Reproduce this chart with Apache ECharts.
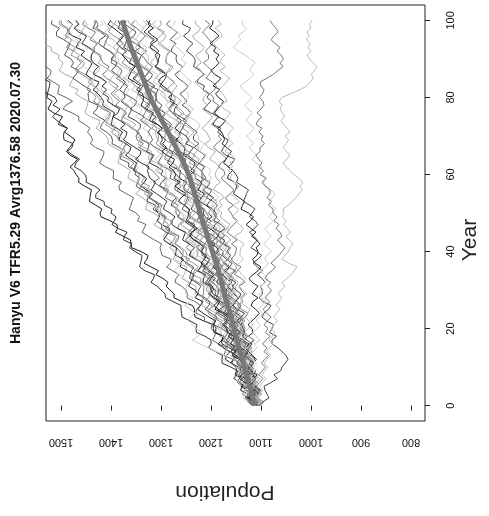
<!DOCTYPE html>
<html><head><meta charset="utf-8">
<script src="https://cdn.jsdelivr.net/npm/echarts@6/dist/echarts.min.js"></script>
<style>html,body{margin:0;padding:0;background:#fff}#c{width:489px;height:516px}</style>
</head><body><div id="c"></div>
<script>
const YEARS=[0,1,2,3,4,5,6,7,8,9,10,11,12,13,14,15,16,17,18,19,20,21,22,23,24,25,26,27,28,29,30,31,32,33,34,35,36,37,38,39,40,41,42,43,44,45,46,47,48,49,50,51,52,53,54,55,56,57,58,59,60,61,62,63,64,65,66,67,68,69,70,71,72,73,74,75,76,77,78,79,80,81,82,83,84,85,86,87,88,89,90,91,92,93,94,95,96,97,98,99,100];
const POP_TICKS=[800,900,1000,1100,1200,1300,1400,1500];
const YEAR_TICKS=[0,20,40,60,80,100];
const TITLE="Hanyu V6 TFR5.29 Avrg1376.58 2020.07.30";

const L1=[1108,1109,1104,1117,1129,1140,1134,1129,1145,1139,1145,1159,1155,1153,1150,1164,1178,1179,1174,1191,1190,1194,1215,1232,1233,1233,1237,1258,1274,1274,1282,1290,1286,1296,1310,1305,1320,1334,1328,1326,1340,1359,1360,1361,1376,1391,1387,1388,1402,1420,1422,1418,1430,1443,1442,1441,1439,1453,1465,1464,1470,1474,1482,1473,1467,1482,1489,1483,1477,1472,1482,1493,1487,1505,1502,1497,1515,1526,1522,1518,1528,1527,1543,1545,1563,1563,1556,1568,1586,1586,1590,1601,1616,1616,1612,1627,1641,1635,1636,1656,1660];
const L2=[1105,1113,1108,1119,1132,1127,1141,1155,1149,1147,1160,1178,1178,1177,1191,1205,1200,1200,1212,1229,1230,1228,1242,1258,1259,1260,1260,1276,1291,1292,1300,1308,1320,1315,1313,1332,1343,1341,1339,1338,1352,1363,1358,1375,1373,1368,1386,1398,1393,1390,1400,1398,1413,1414,1431,1430,1422,1433,1450,1449,1452,1460,1473,1470,1463,1476,1487,1478,1476,1494,1495,1494,1487,1498,1508,1517,1509,1502,1516,1508,1512,1527,1525,1523,1522,1537,1553,1555,1551,1569,1570,1572,1591,1605,1604,1602,1604,1623,1636,1634,1640];
const L3=[1112,1119,1130,1122,1119,1137,1147,1144,1139,1137,1150,1161,1156,1174,1172,1167,1185,1197,1193,1190,1200,1198,1213,1213,1230,1229,1221,1232,1248,1247,1250,1259,1272,1270,1264,1277,1289,1281,1280,1298,1300,1302,1299,1313,1326,1338,1334,1330,1347,1343,1350,1364,1360,1358,1355,1369,1383,1384,1379,1396,1395,1395,1411,1423,1419,1415,1414,1431,1441,1437,1440,1447,1442,1452,1465,1464,1478,1496,1490,1477,1490,1507,1505,1503,1515,1528,1521,1520,1530,1546,1545,1542,1554,1569,1568,1568,1566,1581,1594,1594,1600];
const L4=[1110,1117,1128,1124,1116,1127,1137,1127,1124,1140,1140,1142,1138,1152,1164,1176,1171,1167,1183,1179,1185,1199,1195,1193,1190,1204,1218,1219,1214,1231,1230,1230,1246,1258,1254,1250,1249,1266,1276,1272,1275,1281,1275,1284,1296,1289,1302,1314,1307,1303,1315,1331,1329,1326,1338,1350,1343,1341,1351,1366,1365,1361,1372,1386,1384,1383,1380,1394,1406,1405,1410,1418,1430,1424,1422,1441,1452,1450,1447,1446,1460,1471,1465,1483,1480,1475,1492,1504,1499,1496,1505,1504,1519,1520,1537,1537,1529,1541,1557,1557,1560];
const L5=[1115,1113,1127,1137,1132,1126,1123,1138,1147,1140,1142,1148,1141,1150,1161,1154,1167,1178,1171,1166,1178,1194,1191,1188,1200,1212,1204,1202,1212,1226,1225,1220,1230,1243,1241,1239,1235,1248,1260,1257,1262,1269,1281,1274,1271,1290,1300,1297,1293,1292,1305,1316,1310,1328,1326,1321,1338,1350,1346,1342,1352,1350,1365,1364,1381,1380,1372,1383,1398,1397,1400,1409,1421,1419,1412,1425,1436,1428,1426,1444,1445,1446,1441,1454,1465,1476,1470,1465,1480,1475,1480,1493,1489,1485,1482,1495,1509,1509,1503,1519,1518];
const L6=[1100,1095,1106,1118,1116,1114,1111,1124,1135,1133,1138,1144,1155,1147,1144,1161,1170,1167,1162,1160,1172,1182,1176,1192,1189,1183,1200,1211,1205,1201,1210,1207,1221,1220,1236,1234,1225,1235,1250,1248,1250,1259,1272,1270,1264,1277,1289,1281,1280,1298,1300,1301,1297,1310,1322,1333,1328,1323,1339,1334,1340,1354,1350,1348,1345,1359,1373,1374,1369,1386,1385,1384,1400,1411,1407,1402,1401,1417,1427,1422,1425,1431,1425,1434,1446,1439,1452,1467,1457,1453,1465,1480,1476,1472,1483,1494,1485,1482,1491,1504,1502];
const L7=[1118,1114,1127,1126,1141,1138,1128,1137,1152,1149,1150,1159,1171,1169,1162,1175,1186,1178,1176,1194,1195,1196,1191,1204,1216,1227,1221,1216,1232,1226,1232,1245,1241,1237,1234,1247,1261,1261,1255,1271,1270,1269,1284,1295,1290,1285,1283,1299,1308,1303,1305,1311,1304,1313,1324,1317,1329,1341,1333,1329,1340,1355,1352,1349,1360,1371,1363,1360,1370,1384,1382,1377,1388,1400,1398,1396,1393,1406,1417,1415,1420,1426,1436,1428,1424,1441,1450,1446,1441,1438,1450,1460,1453,1470,1466,1460,1477,1487,1482,1477,1486];
const L8=[1105,1117,1111,1107,1102,1114,1126,1125,1118,1133,1130,1128,1143,1153,1148,1142,1140,1155,1164,1158,1160,1165,1158,1166,1177,1169,1181,1192,1184,1179,1190,1205,1201,1197,1207,1218,1209,1206,1214,1228,1225,1219,1230,1242,1239,1237,1233,1245,1256,1254,1258,1265,1276,1270,1267,1285,1295,1292,1289,1287,1300,1311,1306,1323,1321,1316,1334,1346,1341,1338,1348,1346,1361,1362,1379,1378,1370,1381,1398,1397,1400,1408,1420,1417,1410,1422,1433,1424,1422,1439,1440,1440,1435,1448,1459,1469,1463,1457,1473,1467,1472];
const L9=[1112,1103,1113,1123,1118,1114,1128,1137,1134,1127,1135,1148,1144,1139,1148,1158,1168,1163,1158,1168,1170,1170,1166,1180,1190,1179,1176,1186,1197,1206,1200,1198,1212,1203,1214,1228,1219,1216,1229,1241,1240,1250,1243,1251,1242,1251,1267,1264,1256,1265,1270,1270,1266,1277,1292,1288,1285,1302,1316,1303,1310,1317,1329,1324,1320,1317,1330,1343,1335,1348,1350,1345,1357,1369,1380,1375,1369,1377,1391,1383,1392,1400,1391,1386,1397,1409,1417,1408,1404,1416,1420,1421,1434,1433,1428,1442,1436,1431,1446,1457,1452];
const L10=[1108,1105,1114,1125,1120,1109,1120,1129,1118,1129,1125,1130,1138,1130,1126,1142,1150,1141,1148,1141,1150,1157,1147,1157,1173,1170,1165,1180,1190,1186,1185,1187,1199,1191,1203,1216,1212,1208,1202,1214,1220,1229,1221,1235,1243,1237,1232,1243,1255,1267,1262,1267,1280,1277,1269,1278,1291,1303,1299,1291,1300,1296,1308,1323,1319,1314,1329,1325,1324,1338,1340,1349,1342,1341,1351,1366,1362,1358,1370,1380,1372,1374,1383,1377,1371,1381,1390,1399,1392,1388,1400,1394,1403,1415,1425,1422,1411,1421,1436,1432,1432];
const L11=[1120,1126,1136,1130,1124,1120,1131,1143,1133,1145,1145,1139,1151,1161,1171,1166,1159,1166,1178,1170,1178,1186,1176,1172,1183,1195,1202,1193,1190,1201,1205,1206,1218,1216,1211,1225,1218,1213,1227,1237,1232,1224,1233,1244,1239,1235,1250,1259,1257,1249,1258,1270,1266,1261,1270,1279,1289,1283,1279,1288,1290,1291,1287,1302,1312,1302,1299,1310,1321,1331,1325,1323,1336,1327,1337,1351,1341,1338,1350,1362,1360,1370,1363,1372,1363,1372,1388,1385,1378,1387,1392,1391,1386,1396,1410,1409,1404,1420,1434,1416,1422];
const L12=[1110,1104,1114,1128,1122,1115,1128,1122,1120,1132,1132,1141,1134,1131,1141,1156,1152,1148,1158,1168,1160,1162,1170,1165,1158,1168,1176,1185,1178,1174,1185,1179,1187,1198,1207,1204,1192,1202,1215,1211,1210,1208,1219,1231,1227,1217,1230,1240,1230,1243,1240,1245,1254,1246,1243,1259,1268,1259,1267,1260,1270,1277,1267,1277,1293,1290,1285,1300,1310,1306,1305,1307,1319,1311,1323,1336,1332,1328,1322,1334,1340,1348,1339,1352,1359,1352,1346,1356,1367,1378,1372,1376,1388,1385,1376,1382,1394,1405,1401,1394,1402];
const L13=[1102,1108,1117,1109,1104,1121,1130,1125,1120,1116,1128,1136,1128,1144,1139,1131,1146,1155,1149,1143,1150,1145,1157,1155,1169,1165,1154,1162,1176,1172,1172,1179,1189,1185,1176,1187,1197,1186,1183,1198,1198,1198,1193,1205,1216,1226,1220,1214,1229,1223,1228,1240,1236,1232,1229,1241,1254,1254,1248,1264,1262,1261,1277,1287,1283,1278,1277,1293,1302,1297,1300,1305,1298,1307,1318,1310,1322,1333,1326,1321,1332,1346,1342,1336,1346,1356,1347,1343,1350,1363,1360,1354,1363,1375,1371,1368,1364,1375,1386,1382,1386];
const L14=[1115,1114,1108,1118,1131,1126,1121,1137,1145,1135,1140,1145,1155,1149,1143,1138,1149,1160,1151,1162,1162,1155,1165,1174,1183,1176,1168,1172,1183,1175,1182,1190,1181,1176,1187,1199,1207,1198,1194,1206,1210,1210,1222,1220,1214,1227,1220,1214,1228,1238,1232,1223,1233,1243,1238,1234,1248,1257,1254,1247,1255,1267,1263,1257,1265,1275,1288,1282,1280,1283,1285,1285,1281,1295,1305,1294,1291,1301,1312,1321,1315,1312,1324,1314,1324,1337,1326,1322,1334,1344,1342,1351,1344,1351,1342,1350,1365,1362,1353,1362,1366];
const L15=[1108,1110,1121,1116,1106,1112,1122,1132,1126,1116,1122,1116,1126,1138,1132,1125,1138,1132,1128,1140,1140,1149,1141,1139,1148,1163,1158,1154,1164,1174,1165,1167,1175,1170,1163,1173,1181,1190,1183,1179,1190,1184,1192,1203,1212,1209,1197,1207,1220,1216,1215,1213,1224,1236,1232,1222,1235,1245,1235,1248,1245,1251,1260,1253,1250,1267,1276,1268,1276,1270,1280,1286,1276,1285,1301,1297,1292,1306,1316,1311,1310,1310,1321,1312,1323,1334,1329,1323,1317,1327,1332,1339,1329,1340,1346,1338,1331,1340,1349,1359,1352];
const L16=[1112,1123,1118,1110,1118,1126,1135,1128,1121,1129,1130,1129,1124,1138,1147,1135,1131,1140,1151,1159,1152,1148,1160,1148,1157,1169,1158,1153,1163,1173,1170,1179,1171,1177,1167,1175,1190,1186,1176,1184,1188,1186,1180,1190,1203,1197,1192,1207,1216,1205,1210,1216,1227,1220,1215,1211,1223,1235,1225,1237,1238,1232,1242,1252,1262,1256,1248,1255,1267,1257,1265,1273,1263,1259,1270,1282,1289,1280,1277,1288,1292,1292,1305,1302,1296,1310,1303,1297,1310,1321,1315,1306,1315,1325,1320,1316,1330,1339,1336,1328,1336];
const L17=[1104,1107,1115,1105,1101,1115,1122,1112,1118,1110,1118,1123,1112,1120,1135,1130,1124,1137,1146,1140,1138,1138,1149,1140,1151,1162,1157,1151,1145,1155,1160,1168,1158,1170,1176,1169,1162,1172,1181,1192,1185,1188,1199,1195,1185,1192,1203,1217,1208,1198,1205,1200,1210,1224,1219,1213,1226,1221,1219,1231,1232,1241,1234,1232,1242,1255,1253,1252,1260,1270,1262,1263,1272,1266,1259,1269,1277,1285,1278,1274,1285,1278,1286,1296,1305,1301,1289,1298,1311,1306,1305,1302,1311,1322,1317,1306,1317,1326,1315,1326,1322];
const L18=[1116,1127,1121,1116,1111,1122,1133,1131,1124,1138,1135,1132,1145,1154,1147,1140,1136,1150,1157,1150,1150,1154,1146,1152,1162,1153,1164,1174,1164,1158,1168,1181,1176,1170,1179,1188,1178,1175,1180,1192,1188,1181,1190,1201,1197,1193,1188,1199,1209,1205,1208,1213,1222,1213,1208,1224,1232,1227,1221,1217,1228,1236,1228,1244,1239,1231,1246,1255,1249,1243,1250,1245,1257,1255,1269,1265,1254,1262,1276,1272,1272,1278,1288,1282,1273,1283,1292,1281,1276,1291,1290,1288,1281,1292,1301,1309,1301,1293,1307,1299,1302];
const L19=[1110,1101,1109,1119,1113,1108,1121,1130,1126,1118,1125,1136,1130,1123,1131,1139,1147,1140,1134,1141,1142,1141,1135,1148,1156,1144,1140,1148,1158,1165,1158,1154,1165,1154,1163,1175,1163,1158,1169,1178,1175,1184,1176,1183,1173,1179,1196,1192,1183,1191,1195,1193,1187,1196,1209,1203,1198,1213,1221,1210,1215,1220,1230,1223,1217,1212,1223,1234,1224,1235,1235,1228,1238,1247,1256,1249,1241,1247,1258,1248,1255,1262,1251,1246,1255,1266,1272,1262,1257,1268,1270,1269,1280,1277,1270,1282,1274,1267,1280,1289,1282];
const L20=[1106,1103,1112,1123,1117,1106,1118,1126,1115,1126,1122,1126,1134,1124,1120,1135,1143,1133,1139,1131,1140,1145,1133,1141,1155,1150,1143,1156,1164,1158,1155,1155,1165,1155,1165,1176,1170,1164,1156,1166,1170,1177,1166,1177,1182,1174,1166,1175,1183,1193,1185,1188,1199,1195,1185,1192,1203,1217,1208,1198,1205,1199,1209,1222,1216,1209,1222,1218,1213,1225,1225,1233,1225,1222,1231,1245,1241,1235,1245,1254,1245,1246,1253,1247,1239,1248,1255,1263,1255,1250,1260,1252,1259,1269,1277,1272,1259,1267,1280,1274,1272];
const L21=[1104,1096,1084,1088,1092,1094,1080,1067,1074,1061,1058,1052,1046,1050,1058,1066,1078,1078,1069,1083,1078,1075,1089,1098,1094,1085,1080,1096,1104,1097,1098,1101,1092,1098,1107,1097,1107,1116,1106,1099,1108,1120,1114,1107,1115,1123,1113,1106,1112,1123,1118,1112,1122,1135,1132,1129,1125,1137,1149,1146,1150,1156,1166,1157,1153,1170,1179,1175,1169,1166,1178,1187,1180,1196,1192,1185,1201,1214,1208,1200,1208,1203,1216,1213,1228,1224,1213,1222,1235,1232,1232,1238,1249,1244,1236,1246,1255,1245,1241,1257,1256];
const L22=[1114,1113,1125,1121,1115,1127,1119,1113,1125,1135,1128,1118,1126,1136,1130,1124,1137,1145,1142,1133,1140,1150,1144,1137,1144,1151,1159,1151,1145,1152,1152,1150,1145,1157,1165,1153,1148,1156,1165,1173,1165,1160,1172,1160,1168,1180,1168,1162,1172,1182,1178,1186,1178,1184,1174,1181,1195,1191,1181,1189,1192,1189,1183,1191,1203,1197,1191,1205,1212,1201,1205,1209,1218,1210,1203,1197,1207,1217,1206,1216,1215,1207,1216,1224,1232,1224,1215,1220,1230,1219,1225,1231,1219,1213,1222,1232,1237,1226,1221,1230,1232];
const L23=[1108,1100,1107,1117,1125,1120,1107,1115,1128,1122,1120,1116,1125,1136,1130,1118,1129,1137,1126,1137,1132,1135,1142,1131,1126,1140,1147,1136,1141,1132,1140,1144,1132,1139,1153,1147,1140,1152,1160,1153,1150,1149,1159,1148,1158,1168,1162,1155,1147,1156,1160,1166,1155,1166,1171,1162,1154,1162,1171,1180,1172,1174,1185,1180,1169,1176,1186,1195,1189,1179,1185,1178,1187,1199,1192,1184,1196,1189,1185,1196,1195,1202,1193,1189,1197,1210,1204,1198,1207,1215,1205,1205,1211,1204,1196,1204,1210,1217,1209,1202,1212];
const L24=[1112,1117,1126,1119,1109,1118,1126,1114,1108,1122,1120,1117,1109,1117,1125,1132,1123,1114,1125,1116,1118,1126,1118,1110,1103,1111,1120,1116,1106,1118,1112,1106,1118,1124,1116,1106,1100,1112,1117,1108,1106,1110,1102,1109,1119,1110,1120,1130,1121,1115,1125,1140,1137,1133,1144,1155,1151,1148,1153,1167,1165,1157,1165,1175,1170,1165,1159,1169,1178,1173,1175,1179,1187,1177,1171,1186,1193,1187,1180,1175,1185,1191,1182,1196,1187,1180,1193,1200,1191,1184,1190,1184,1195,1190,1202,1193,1184,1192,1203,1197,1196];
const L25=[1110,1116,1105,1098,1106,1114,1123,1112,1104,1116,1118,1117,1128,1123,1116,1128,1120,1113,1124,1133,1126,1116,1124,1133,1127,1121,1133,1141,1137,1128,1135,1145,1138,1130,1138,1144,1151,1143,1135,1142,1142,1140,1134,1145,1153,1140,1135,1143,1151,1158,1150,1145,1156,1143,1151,1162,1150,1144,1154,1162,1158,1166,1157,1162,1151,1158,1172,1166,1156,1163,1166,1163,1155,1163,1174,1167,1161,1174,1181,1168,1172,1176,1185,1176,1169,1163,1173,1183,1171,1181,1180,1172,1180,1188,1195,1187,1178,1182,1192,1180,1186];
const L26=[1110,1104,1113,1108,1117,1112,1106,1114,1120,1111,1116,1109,1118,1124,1115,1108,1114,1102,1110,1117,1108,1101,1110,1104,1096,1105,1099,1090,1098,1104,1095,1101,1092,1086,1094,1100,1091,1085,1093,1088,1079,1087,1095,1088,1080,1086,1092,1083,1076,1084,1078,1070,1078,1085,1077,1072,1081,1090,1096,1088,1097,1105,1098,1110,1118,1109,1116,1124,1115,1121,1128,1120,1113,1122,1130,1124,1117,1126,1133,1125,1118,1127,1136,1142,1131,1122,1114,1123,1118,1112,1121,1132,1145,1156,1148,1140,1146,1136,1129,1138,1136];
const L27=[1112,1105,1114,1108,1100,1109,1103,1096,1104,1098,1091,1099,1093,1085,1094,1088,1097,1090,1082,1091,1086,1094,1087,1080,1089,1096,1088,1083,1092,1085,1079,1087,1081,1092,1088,1078,1071,1080,1072,1064,1058,1052,1060,1067,1058,1062,1070,1064,1074,1068,1076,1076,1085,1079,1088,1082,1082,1092,1098,1090,1102,1095,1104,1098,1105,1110,1102,1102,1093,1100,1096,1104,1098,1110,1106,1099,1108,1100,1094,1096,1103,1097,1094,1100,1102,1088,1075,1066,1056,1062,1055,1060,1068,1062,1072,1080,1074,1066,1070,1077,1082];
const L28=[1108,1102,1110,1104,1096,1103,1097,1090,1098,1093,1086,1094,1088,1080,1089,1083,1076,1084,1078,1072,1080,1074,1067,1075,1069,1062,1070,1064,1058,1066,1060,1052,1058,1048,1040,1034,1028,1045,1058,1052,1045,1042,1036,1044,1050,1041,1047,1055,1049,1058,1054,1056,1046,1038,1030,1024,1017,1022,1016,1025,1034,1042,1050,1056,1048,1042,1049,1056,1050,1045,1052,1042,1048,1055,1060,1053,1057,1062,1058,1064,1058,1040,1022,1008,1002,995,1000,993,988,996,1003,1008,1000,1006,1002,1009,1004,1008,1000,1003,998];
const L29=[1104,1114,1107,1106,1116,1132,1129,1125,1137,1147,1140,1143,1153,1149,1144,1155,1165,1175,1170,1167,1180,1175,1184,1196,1206,1204,1193,1204,1218,1215,1215,1214,1226,1239,1236,1227,1241,1252,1243,1257,1255,1262,1272,1266,1264,1282,1292,1285,1294,1289,1300,1308,1299,1310,1327,1325,1321,1337,1348,1345,1345,1348,1361,1354,1367,1381,1378,1375,1370,1383,1390,1399,1391,1404,1412,1406,1401,1412,1423,1435,1430,1435,1448,1445,1437,1446,1459,1471,1467,1459,1468,1463,1474,1489,1484,1478,1492,1487,1486,1499,1500];
const L30=[1116,1125,1119,1135,1132,1125,1141,1152,1146,1142,1150,1162,1175,1168,1190,1205,1222,1238,1226,1218,1230,1236,1246,1241,1232,1242,1253,1242,1236,1251,1250,1249,1243,1254,1264,1273,1266,1259,1273,1266,1270,1283,1278,1275,1271,1284,1297,1297,1291,1307,1305,1304,1320,1331,1327,1322,1321,1337,1347,1342,1345,1351,1345,1354,1366,1359,1372,1387,1377,1373,1385,1400,1396,1392,1402,1413,1404,1401,1409,1423,1420,1415,1426,1438,1436,1434,1431,1444,1455,1453,1458,1464,1474,1467,1463,1480,1489,1485,1481,1478,1490];
const L31=[1110,1116,1126,1120,1114,1110,1121,1133,1123,1135,1135,1129,1140,1150,1160,1154,1147,1154,1166,1157,1165,1174,1165,1162,1173,1186,1194,1186,1183,1196,1200,1202,1216,1215,1211,1226,1221,1217,1232,1244,1240,1233,1244,1257,1254,1251,1267,1278,1278,1272,1282,1295,1293,1288,1298,1309,1320,1315,1311,1322,1325,1327,1324,1340,1351,1342,1340,1352,1364,1375,1370,1368,1381,1372,1382,1396,1386,1383,1395,1407,1405,1416,1409,1418,1409,1419,1435,1433,1425,1435,1440,1439,1434,1444,1458,1453,1449,1465,1474,1464,1470];
const L32=[1106,1100,1110,1124,1118,1111,1124,1118,1116,1128,1128,1137,1130,1128,1138,1150,1149,1148,1156,1166,1158,1160,1170,1165,1160,1170,1179,1189,1183,1180,1192,1187,1196,1208,1218,1216,1206,1216,1231,1227,1228,1226,1238,1250,1247,1237,1250,1261,1251,1265,1262,1268,1278,1270,1268,1285,1295,1287,1295,1289,1300,1307,1298,1309,1326,1323,1319,1334,1346,1342,1342,1344,1358,1350,1363,1377,1374,1370,1365,1378,1385,1394,1385,1398,1405,1399,1393,1404,1414,1426,1420,1425,1437,1435,1426,1435,1447,1459,1455,1447,1455];
const L33=[1118,1123,1132,1124,1119,1135,1143,1138,1133,1129,1140,1149,1141,1157,1152,1145,1160,1170,1163,1158,1165,1161,1173,1171,1186,1183,1172,1181,1195,1191,1192,1199,1209,1205,1196,1207,1217,1206,1203,1218,1218,1218,1212,1224,1235,1245,1238,1232,1247,1240,1245,1258,1253,1250,1246,1259,1272,1272,1266,1282,1280,1279,1295,1306,1302,1297,1296,1312,1322,1317,1320,1326,1320,1329,1341,1334,1347,1362,1352,1348,1360,1375,1372,1367,1378,1389,1381,1378,1386,1400,1398,1392,1402,1415,1412,1409,1405,1417,1429,1426,1430];
const L34=[1112,1110,1104,1112,1125,1119,1114,1129,1136,1125,1130,1136,1146,1140,1134,1130,1141,1153,1143,1155,1155,1149,1159,1169,1178,1172,1164,1171,1182,1173,1180,1188,1179,1175,1186,1198,1206,1197,1194,1206,1210,1211,1224,1222,1217,1231,1225,1220,1234,1245,1240,1232,1242,1254,1250,1246,1261,1271,1270,1263,1272,1285,1282,1276,1286,1296,1307,1302,1297,1307,1310,1311,1308,1322,1333,1323,1321,1332,1343,1353,1348,1346,1359,1350,1361,1375,1365,1362,1375,1386,1385,1395,1388,1396,1387,1396,1412,1412,1404,1410,1415];
const L35=[1108,1112,1124,1121,1112,1120,1132,1143,1139,1130,1138,1133,1144,1158,1153,1147,1161,1156,1154,1167,1168,1177,1169,1167,1177,1192,1187,1183,1194,1203,1195,1197,1205,1200,1193,1203,1211,1220,1213,1209,1220,1214,1222,1233,1242,1239,1227,1237,1250,1246,1245,1243,1253,1265,1260,1250,1262,1272,1261,1274,1270,1275,1284,1276,1273,1289,1298,1289,1297,1290,1300,1307,1297,1307,1323,1320,1315,1330,1340,1336,1335,1337,1349,1341,1353,1366,1362,1358,1352,1364,1370,1378,1369,1381,1388,1381,1375,1385,1395,1406,1400];
const L36=[1114,1107,1116,1126,1122,1118,1113,1124,1133,1129,1132,1137,1146,1136,1131,1147,1155,1150,1143,1139,1150,1158,1150,1165,1160,1152,1167,1176,1169,1163,1170,1166,1178,1176,1190,1187,1176,1185,1198,1195,1195,1202,1212,1208,1200,1211,1220,1210,1207,1222,1222,1222,1218,1230,1241,1252,1246,1240,1255,1250,1255,1268,1263,1260,1257,1270,1283,1283,1278,1293,1292,1291,1306,1317,1312,1307,1306,1321,1331,1325,1328,1333,1327,1335,1347,1339,1351,1363,1355,1351,1362,1376,1372,1366,1376,1386,1377,1373,1380,1393,1390];
const L37=[1106,1115,1107,1114,1104,1112,1126,1122,1113,1121,1125,1123,1118,1127,1140,1135,1130,1145,1153,1143,1148,1153,1163,1157,1151,1146,1157,1168,1159,1170,1170,1163,1173,1183,1192,1185,1177,1183,1195,1185,1192,1199,1190,1185,1195,1207,1214,1204,1200,1212,1215,1216,1228,1226,1220,1234,1227,1222,1235,1246,1240,1233,1243,1255,1251,1248,1263,1274,1272,1266,1275,1288,1284,1279,1288,1298,1308,1303,1298,1308,1310,1310,1306,1321,1331,1320,1317,1327,1339,1348,1342,1339,1352,1341,1351,1364,1354,1350,1361,1372,1370];
const L38=[1110,1117,1107,1117,1123,1115,1108,1117,1125,1135,1128,1131,1141,1137,1127,1134,1144,1154,1149,1138,1145,1139,1148,1161,1155,1148,1160,1154,1151,1162,1162,1170,1162,1159,1168,1182,1177,1172,1182,1191,1182,1183,1192,1186,1179,1189,1197,1205,1198,1194,1205,1199,1207,1218,1228,1225,1213,1223,1237,1232,1232,1230,1241,1256,1252,1242,1255,1265,1255,1265,1262,1267,1277,1269,1266,1283,1292,1283,1291,1285,1295,1301,1291,1300,1316,1312,1307,1321,1331,1326,1325,1326,1337,1328,1339,1351,1346,1341,1334,1345,1350];
const L39=[1112,1124,1118,1111,1119,1127,1116,1110,1116,1127,1122,1114,1123,1133,1128,1124,1118,1128,1137,1133,1135,1140,1148,1139,1133,1149,1156,1151,1144,1140,1150,1158,1150,1164,1159,1151,1166,1175,1167,1161,1168,1163,1175,1173,1187,1183,1172,1180,1194,1190,1190,1197,1208,1203,1195,1206,1216,1206,1202,1218,1218,1218,1213,1226,1237,1247,1241,1235,1251,1245,1250,1262,1257,1253,1249,1261,1274,1273,1267,1282,1280,1278,1293,1302,1297,1291,1289,1304,1312,1306,1308,1312,1304,1312,1322,1313,1324,1334,1326,1320,1330];
const L40=[1104,1100,1111,1100,1108,1120,1109,1103,1114,1123,1120,1129,1121,1128,1118,1126,1141,1137,1128,1136,1140,1138,1132,1140,1153,1147,1142,1157,1164,1153,1158,1163,1172,1165,1159,1154,1164,1175,1165,1175,1175,1168,1178,1187,1196,1189,1181,1187,1198,1188,1195,1202,1193,1188,1198,1210,1217,1207,1203,1215,1218,1218,1231,1228,1223,1236,1229,1224,1237,1248,1242,1234,1243,1254,1249,1245,1260,1269,1267,1259,1268,1279,1274,1268,1276,1284,1293,1286,1281,1289,1290,1289,1284,1297,1306,1294,1290,1299,1309,1317,1310];
const MEAN=[1112,1114,1116,1118,1120,1123,1125,1127,1129,1131,1133,1135,1137,1140,1142,1144,1146,1148,1150,1152,1154,1156,1158,1160,1162,1164,1167,1169,1171,1173,1175,1177,1179,1181,1183,1185,1188,1190,1192,1195,1197,1200,1202,1205,1207,1210,1212,1215,1217,1220,1222,1224,1226,1228,1230,1233,1235,1237,1240,1242,1245,1248,1251,1255,1258,1262,1266,1270,1274,1278,1282,1286,1290,1294,1298,1302,1306,1310,1314,1318,1321,1324,1327,1330,1333,1336,1339,1342,1345,1348,1351,1354,1357,1360,1363,1365,1368,1370,1373,1375,1378];

const RUNS=[L1,L2,L3,L4,L5,L6,L7,L8,L9,L10,L11,L12,L13,L14,L15,L16,L17,L18,L19,L20,L21,L22,L23,L24,L25,L26,L27,L28,L29,L30,L31,L32,L33,L34,L35,L36,L37,L38,L39,L40];
const RUN_COLORS=['#1a1a1a','#333333','#666666','#aaaaaa','#555555','#999999','#222222','#bbbbbb','#777777','#444444','#cccccc','#888888','#333333','#aaaaaa','#666666','#bbbbbb','#222222','#999999','#555555','#cccccc','#444444','#aaaaaa','#777777','#222222','#bbbbbb','#cccccc','#777777','#bbbbbb','#888888','#cccccc','#333333','#aaaaaa','#666666','#bbbbbb','#222222','#999999','#555555','#cccccc','#444444','#aaaaaa'];

const chart=echarts.init(document.getElementById('c'),null,{renderer:'canvas'});
const FONT='"Liberation Sans", Arial, Helvetica, sans-serif';
const plain=v=>String(v);
const series=RUNS.map((vals,i)=>({
  type:'line',
  data:vals.map((p,j)=>[p,YEARS[j]]),
  symbol:'none',showSymbol:false,silent:true,clip:true,z:2,
  lineStyle:{color:RUN_COLORS[i],width:1}
}));
series.push({
  type:'line',data:MEAN.map((p,j)=>[p,YEARS[j]]),
  symbol:'none',showSymbol:false,silent:true,clip:true,z:3,
  lineStyle:{color:'#787878',width:5}
});
chart.setOption({
  animation:false,
  backgroundColor:'#ffffff',
  grid:{left:46,right:64,top:5,bottom:95,show:true,borderColor:'#222',borderWidth:1,backgroundColor:'transparent',containLabel:false,outerBoundsMode:'none'},
  xAxis:{type:'value',min:772,max:1530,inverse:true,position:'bottom',
    axisLine:{show:false},splitLine:{show:false},
    axisTick:{show:true,length:5,inside:false,customValues:POP_TICKS,lineStyle:{color:'#222',width:1}},
    axisLabel:{customValues:POP_TICKS,formatter:plain,rotate:180,margin:16,fontSize:11,fontFamily:FONT,color:'#111'}},
  yAxis:{type:'value',min:-4,max:104,position:'right',
    axisLine:{show:false},splitLine:{show:false},
    axisTick:{show:true,length:5,inside:false,customValues:YEAR_TICKS,lineStyle:{color:'#222',width:1}},
    axisLabel:{customValues:YEAR_TICKS,formatter:plain,rotate:90,margin:20,fontSize:11,fontFamily:FONT,color:'#111'}},
  graphic:[
    {type:'text',x:16,y:203,rotation:Math.PI/2,style:{text:TITLE,font:'bold 14px '+FONT,fill:'#111',align:'center',verticalAlign:'middle',textAlign:'center',textVerticalAlign:'middle'}},
    {type:'text',x:225,y:492,rotation:Math.PI,style:{text:'Population',font:'21px '+FONT,fill:'#222',align:'center',verticalAlign:'middle',textAlign:'center',textVerticalAlign:'middle'}},
    {type:'text',x:470,y:240,rotation:Math.PI/2,style:{text:'Year',font:'21px '+FONT,fill:'#222',align:'center',verticalAlign:'middle',textAlign:'center',textVerticalAlign:'middle'}}
  ],
  series:series
});
</script>
</body></html>
